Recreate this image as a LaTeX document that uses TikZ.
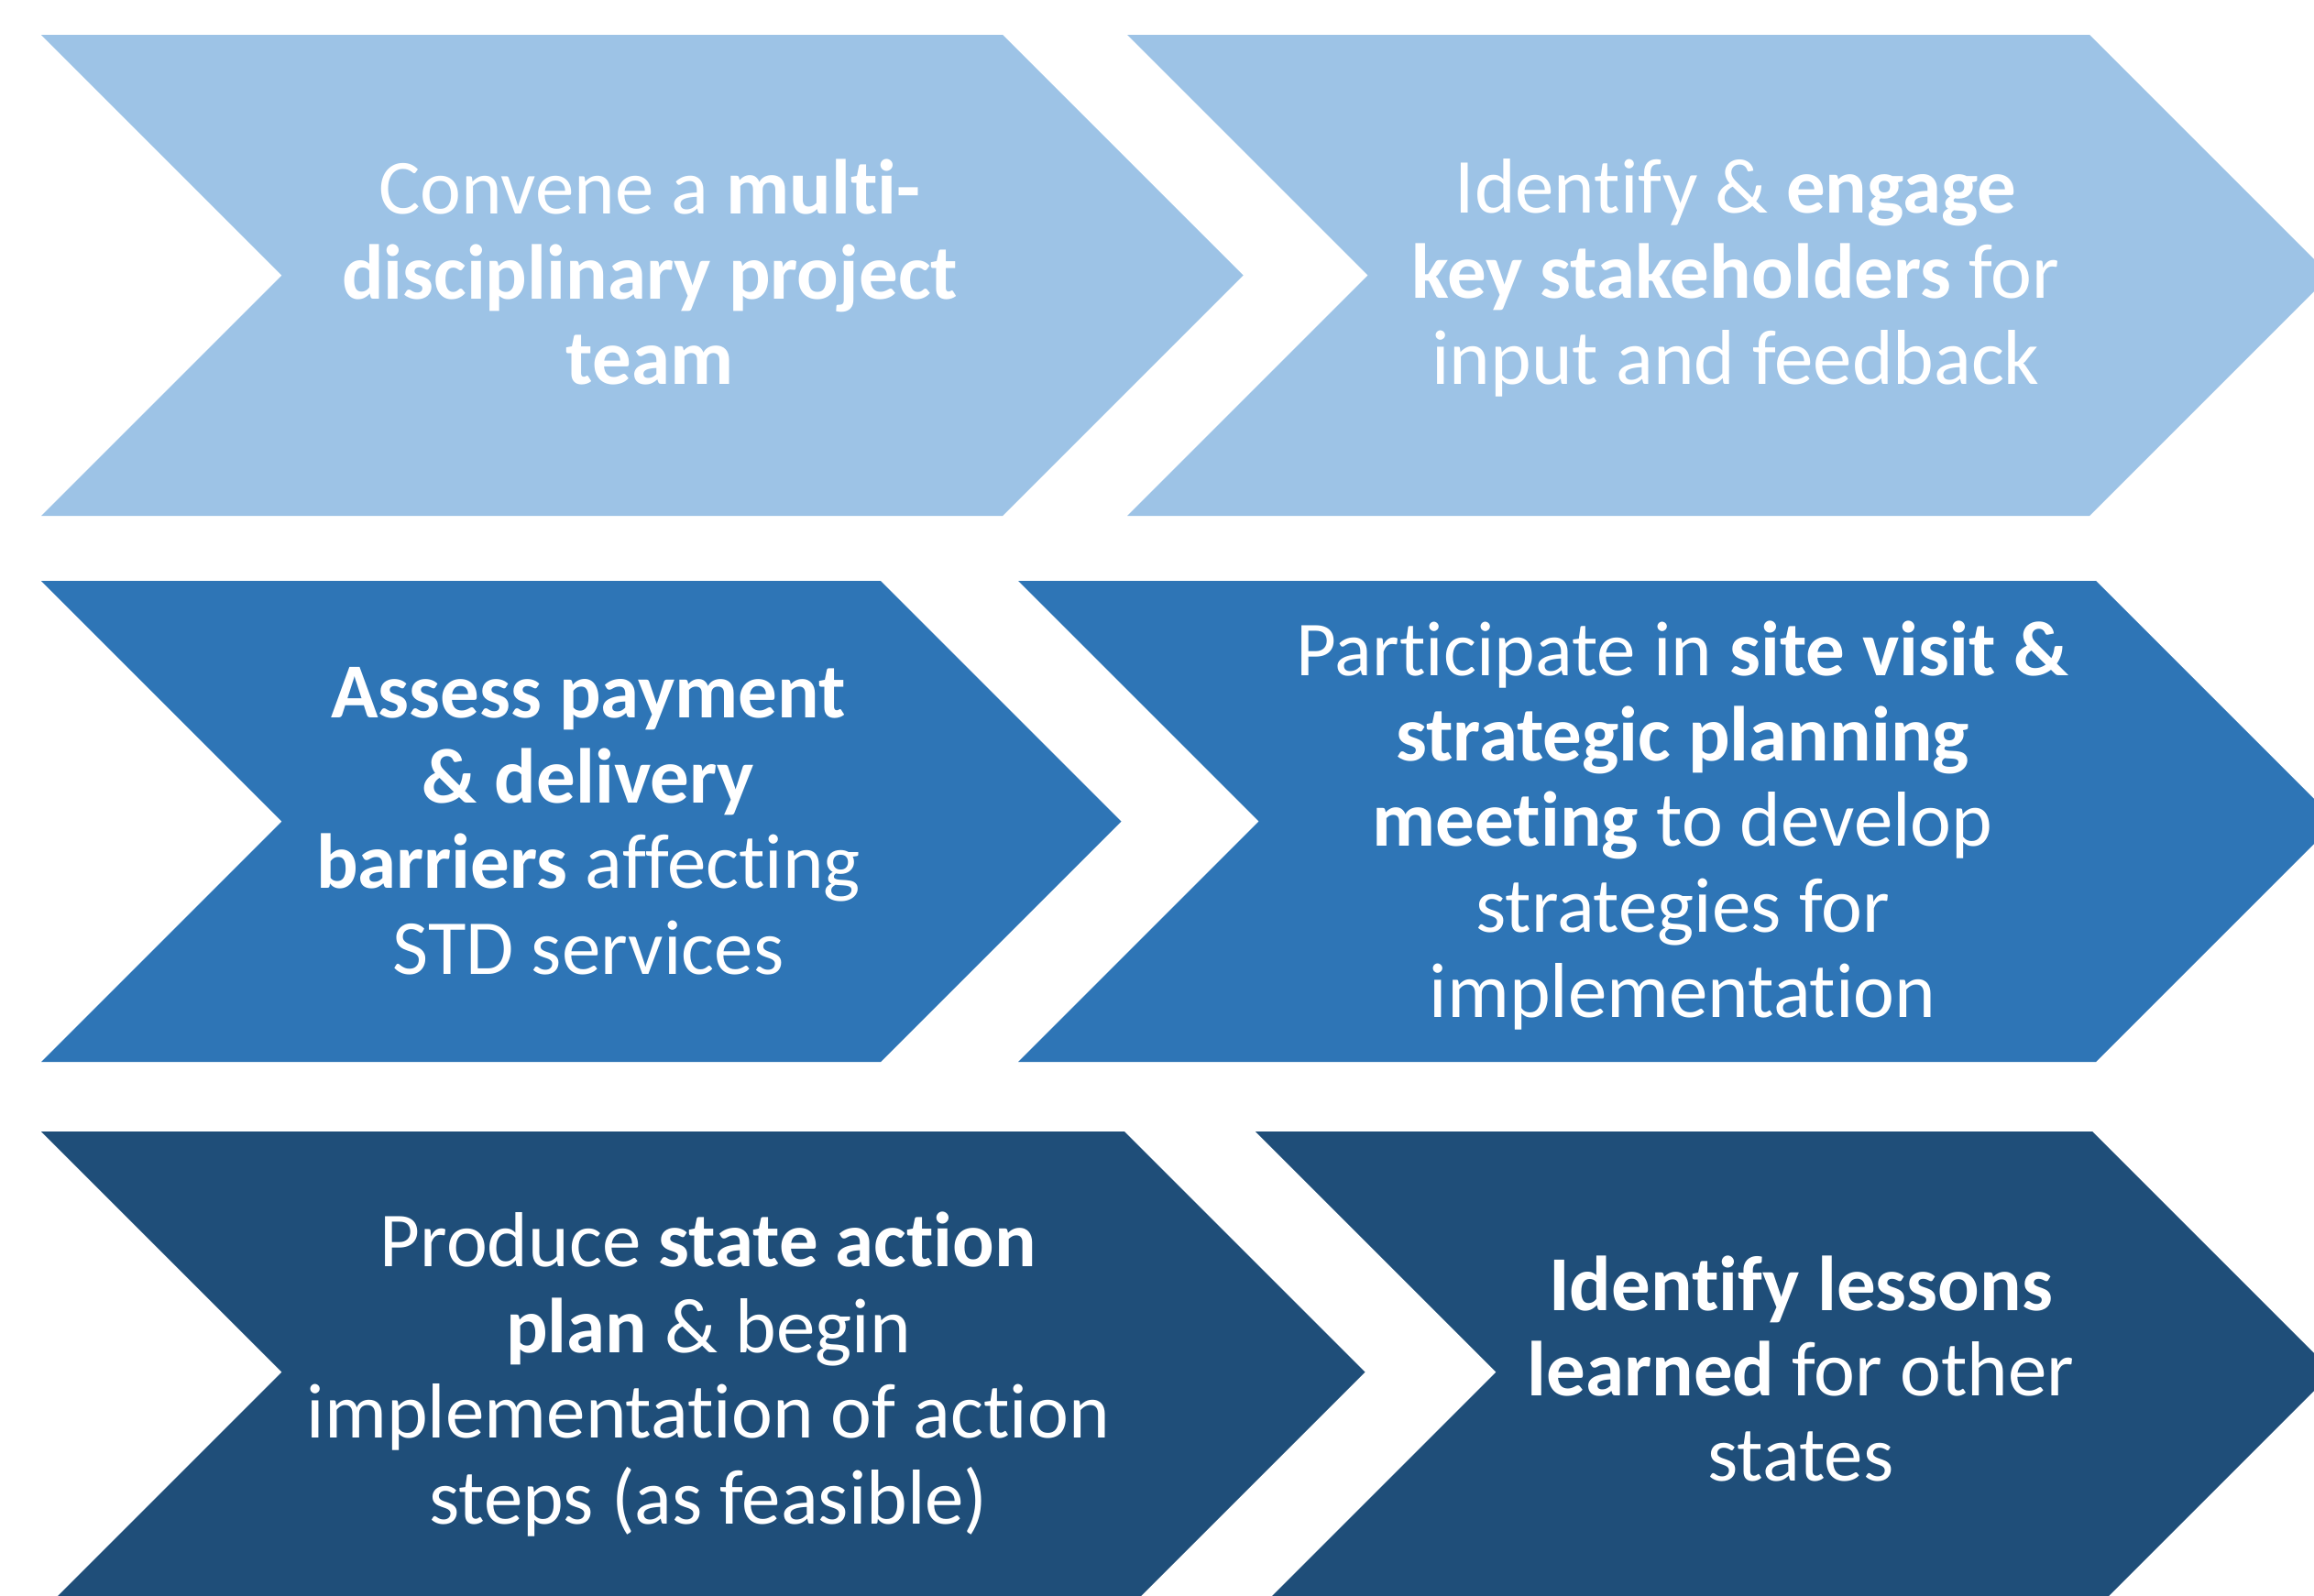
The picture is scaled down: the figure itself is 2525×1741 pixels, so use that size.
\documentclass[tikz,border=0pt]{standalone}
\usepackage{fontspec}
\setmainfont{Carlito}[Ligatures=NoCommon]
\definecolor{lightb}{HTML}{9DC3E6}
\definecolor{midb}{HTML}{2E75B6}
\definecolor{darkb}{HTML}{1F4E79}
\newcommand\chevshape[5]{% color, left, topright, top, bottom
  \fill[#1] (#2,#4) -- (#3,#4) -- ({#3+(#5-#4)/2},{(#4+#5)/2}) -- (#3,#5) -- (#2,#5) -- ({#2+(#5-#4)/2},{(#4+#5)/2}) -- cycle;}
\tikzset{
  lbl/.style={text=white, align=center, inner sep=0pt, font=\fontsize{85}{93.4}\selectfont}
}
\begin{document}
\begin{tikzpicture}[x=1pt,y=-1pt]
\useasboundingbox (0,0) rectangle (2525,1741);
\clip (0,0) rectangle (2525,1741);
\fill[white] (0,0) rectangle (2525,1741);
% row 1
\chevshape{lightb}{45}{1094}{38}{563}
\chevshape{lightb}{1230}{2280}{38}{563}
% row 2
\chevshape{midb}{45}{961}{634}{1159}
\chevshape{midb}{1111}{2287}{634}{1159}
% row 3
\chevshape{darkb}{45}{1227}{1235}{1760}
\chevshape{darkb}{1370}{2283}{1235}{1760}
% labels
\node[lbl] (t1) at (709,297) {Convene a \textbf{multi-}\\\textbf{disciplinary project}\\\textbf{team}};
\node[lbl] (t2) at (1894,303) {Identify \& \textbf{engage}\\\textbf{key stakeholders} for\\input and feedback};
\node[lbl] (t3) at (642,896) {\textbf{Assess payment}\\\textbf{\& delivery}\\\textbf{barriers} affecting\\STD services};
\node[lbl] (t4) at (1836,901) {Participate in \textbf{site visit \&}\\\textbf{strategic planning}\\\textbf{meeting} to develop\\strategies for\\implementation};
\node[lbl] (t5) at (773,1500) {Produce \textbf{state action}\\\textbf{plan} \& begin\\implementation of action\\steps (as feasible)};
\node[lbl] (t6) at (1965,1494) {\textbf{Identify lessons}\\\textbf{learned} for other\\states};
\end{tikzpicture}
\end{document}
